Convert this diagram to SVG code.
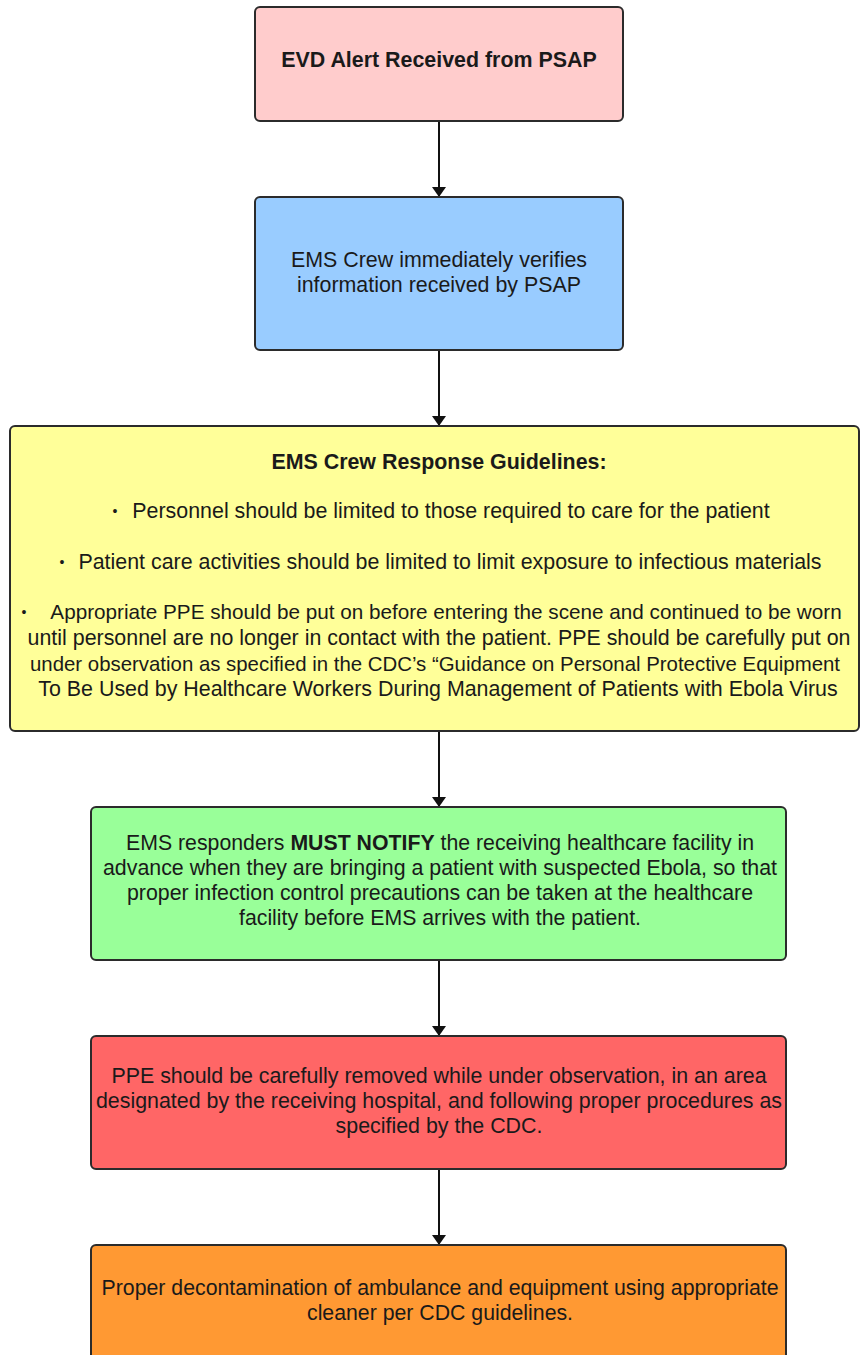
<svg xmlns="http://www.w3.org/2000/svg" width="860" height="1355" viewBox="0 0 860 1355">
<style>
.box{stroke:#2b2b2b;stroke-width:2}
.t{font-family:"Liberation Sans",Arial,sans-serif;font-size:21.4px;fill:#1a1a1a;text-anchor:middle}
.s{font-size:20.7px}
.b{font-weight:bold}
.n{font-family:"Liberation Sans",Arial,sans-serif;font-size:22px;fill:#1a1a1a;text-anchor:middle}
.d{font-family:"Liberation Sans",Arial,sans-serif;font-size:14px;fill:#1a1a1a;text-anchor:middle}
.c{stroke:#111;stroke-width:2;fill:none}
</style>
<defs>
<marker id="ah" viewBox="0 0 10 14" refX="10" refY="7" markerWidth="10" markerHeight="14" markerUnits="userSpaceOnUse" orient="auto">
<path d="M0,0 L10,7 L0,14 Z" fill="#111"/>
</marker>
</defs>
<rect width="860" height="1355" fill="#ffffff"/>
<g id="connectors">
<line class="c" x1="439" y1="121" x2="439" y2="197" marker-end="url(#ah)"/>
<line class="c" x1="439" y1="350" x2="439" y2="426" marker-end="url(#ah)"/>
<line class="c" x1="439" y1="731" x2="439" y2="807" marker-end="url(#ah)"/>
<line class="c" x1="439" y1="960" x2="439" y2="1036" marker-end="url(#ah)"/>
<line class="c" x1="439" y1="1169" x2="439" y2="1245" marker-end="url(#ah)"/>
</g>
<g id="node1">
<rect class="box" x="255" y="7" width="368" height="114" rx="5" fill="#ffcccc"/>
<text class="t b" x="439" y="67">EVD Alert Received from PSAP</text>
</g>
<g id="node2">
<rect class="box" x="255" y="197" width="368" height="153" rx="5" fill="#99ccff"/>
<text class="t" x="439" y="267">EMS Crew immediately verifies</text>
<text class="t" x="439" y="292">information received by PSAP</text>
</g>
<g id="node3">
<rect class="box" x="10" y="426" width="849" height="305" rx="5" fill="#ffff99"/>
<text class="t b" x="439" y="469">EMS Crew Response Guidelines:</text>
<text class="d" x="115" y="516">•</text>
<text class="t" x="451" y="518">Personnel should be limited to those required to care for the patient</text>
<text class="d" x="62" y="567">•</text>
<text class="t" x="450" y="569">Patient care activities should be limited to limit exposure to infectious materials</text>
<text class="d" x="24" y="617">•</text>
<text class="t s" x="446" y="619">Appropriate PPE should be put on before entering the scene and continued to be worn</text>
<text class="t" x="439" y="645">until personnel are no longer in contact with the patient. PPE should be carefully put on</text>
<text class="t" x="435" y="671" style="font-size:20.4px">under observation as specified in the CDC’s “Guidance on Personal Protective Equipment</text>
<text class="t" x="438" y="696">To Be Used by Healthcare Workers During Management of Patients with Ebola Virus</text>
</g>
<g id="node4">
<rect class="box" x="91" y="807" width="695" height="153" rx="5" fill="#99ff99"/>
<text class="n" x="440" y="850" textLength="628" lengthAdjust="spacingAndGlyphs">EMS responders <tspan class="b">MUST NOTIFY</tspan> the receiving healthcare facility in</text>
<text class="n" x="440" y="875" textLength="674" lengthAdjust="spacingAndGlyphs">advance when they are bringing a patient with suspected Ebola, so that</text>
<text class="n" x="440" y="900" textLength="626" lengthAdjust="spacingAndGlyphs">proper infection control precautions can be taken at the healthcare</text>
<text class="n" x="440" y="925" textLength="402" lengthAdjust="spacingAndGlyphs">facility before EMS arrives with the patient.</text>
</g>
<g id="node5">
<rect class="box" x="91" y="1036" width="695" height="133" rx="5" fill="#ff6666"/>
<text class="t" x="439" y="1083">PPE should be carefully removed while under observation, in an area</text>
<text class="t" x="439" y="1108">designated by the receiving hospital, and following proper procedures as</text>
<text class="t" x="439" y="1133">specified by the CDC.</text>
</g>
<g id="node6">
<rect class="box" x="91" y="1245" width="695" height="130" rx="5" fill="#ff9933"/>
<text class="n" x="440" y="1295" textLength="677" lengthAdjust="spacingAndGlyphs">Proper decontamination of ambulance and equipment using appropriate</text>
<text class="n" x="440" y="1320" textLength="266" lengthAdjust="spacingAndGlyphs">cleaner per CDC guidelines.</text>
</g>
</svg>
